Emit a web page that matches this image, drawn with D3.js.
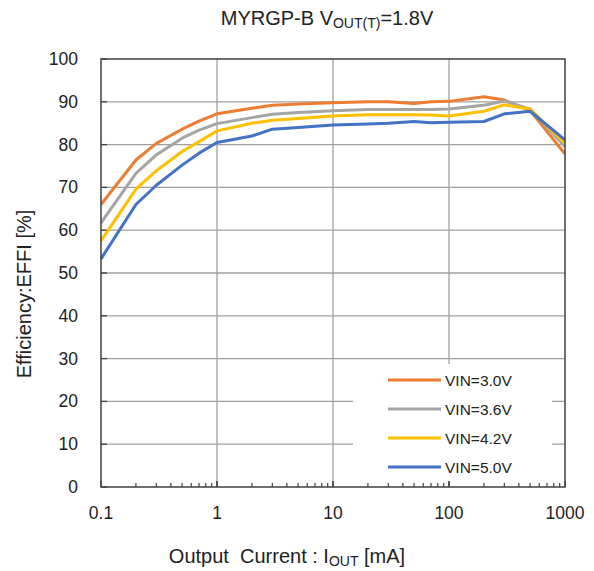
<!DOCTYPE html>
<html>
<head>
<meta charset="utf-8">
<script src="https://cdn.jsdelivr.net/npm/d3@7"></script>
<style>
body { margin: 0; background: #fff; }
text { font-family: "Liberation Sans", Arial, sans-serif; fill: #222; }
</style>
</head>
<body>
<script>
// output current (mA)
var currents = [0.1, 0.2, 0.3, 0.5, 0.7, 1, 2, 3, 5, 10, 20, 30, 50, 70, 100, 200, 300, 500, 1000];
var vin30 = [66.0, 76.4, 80.3, 83.6, 85.5, 87.2, 88.5, 89.2, 89.5, 89.8, 90.0, 90.0, 89.6, 90.0, 90.1, 91.2, 90.4, 88.0, 77.8];
var vin36 = [61.7, 73.3, 77.6, 81.5, 83.4, 84.9, 86.3, 87.1, 87.5, 87.9, 88.2, 88.2, 88.2, 88.2, 88.3, 89.2, 90.2, 88.3, 79.5];
var vin42 = [57.5, 69.6, 73.9, 78.4, 80.7, 83.2, 85.0, 85.7, 86.1, 86.7, 87.0, 87.0, 87.0, 86.9, 86.7, 87.8, 89.3, 88.3, 80.3];
var vin50 = [53.3, 66.0, 70.5, 75.2, 78.0, 80.5, 82.0, 83.6, 84.0, 84.6, 84.8, 85.0, 85.4, 85.1, 85.2, 85.4, 87.2, 87.8, 81.1];
var seriesNames = ["VIN=3.0V", "VIN=3.6V", "VIN=4.2V", "VIN=5.0V"];
var colors = ["#ED7D31", "#A5A5A5", "#FFC000", "#4472C4"];
var yTicks = [0, 10, 20, 30, 40, 50, 60, 70, 80, 90, 100];
var xTicks = [0.1, 1, 10, 100, 1000];

var width = 594, height = 571;
var pL = 101, pR = 565, pT = 59, pB = 487;

var svg = d3.select("body").append("svg")
    .attr("width", width)
    .attr("height", height);

var x = d3.scaleLog().domain([0.1, 1000]).range([pL, pR]);
var y = d3.scaleLinear().domain([0, 100]).range([pB, pT]);

// gridlines
svg.append("g").selectAll("line")
    .data(yTicks.slice(1, -1))
    .enter().append("line")
    .attr("x1", pL).attr("x2", pR)
    .attr("y1", function (d) { return y(d); })
    .attr("y2", function (d) { return y(d); })
    .attr("stroke", "#a0a0a0").attr("stroke-width", 1.3);

svg.append("g").selectAll("line")
    .data(xTicks.slice(1, -1))
    .enter().append("line")
    .attr("x1", function (d) { return x(d); })
    .attr("x2", function (d) { return x(d); })
    .attr("y1", pT).attr("y2", pB)
    .attr("stroke", "#a0a0a0").attr("stroke-width", 1.3);

// legend box sits over the grid
var lg = svg.append("g");
lg.append("rect")
    .attr("x", 353).attr("y", 364)
    .attr("width", 199).attr("height", 118)
    .attr("fill", "#fff");

// minor ticks on bottom (inside)
var minors = [];
for (var dec = 0.1; dec < 1000; dec *= 10) {
    for (var k = 1; k <= 10; k++) minors.push(+(dec * k).toPrecision(3));
}
svg.append("g").selectAll("line")
    .data(minors)
    .enter().append("line")
    .attr("x1", function (d) { return x(d); })
    .attr("x2", function (d) { return x(d); })
    .attr("y1", pB)
    .attr("y2", function (d) { return xTicks.indexOf(d) >= 0 ? pB - 6 : pB - 4; })
    .attr("stroke", "#404040").attr("stroke-width", 1.2);

// major ticks on left (inside)
svg.append("g").selectAll("line")
    .data(yTicks)
    .enter().append("line")
    .attr("x1", pL).attr("x2", pL + 6)
    .attr("y1", function (d) { return y(d); })
    .attr("y2", function (d) { return y(d); })
    .attr("stroke", "#404040").attr("stroke-width", 1.3);

// series lines
var all = [vin30, vin36, vin42, vin50];
var line = d3.line()
    .x(function (d, i) { return x(currents[i]); })
    .y(function (d) { return y(d); });

svg.append("g").selectAll("path")
    .data(all)
    .enter().append("path")
    .attr("d", function (d) { return line(d); })
    .attr("fill", "none")
    .attr("stroke", function (d, i) { return colors[i]; })
    .attr("stroke-width", 3)
    .attr("stroke-linejoin", "round");

// frame
svg.append("rect")
    .attr("x", pL).attr("y", pT)
    .attr("width", pR - pL).attr("height", pB - pT)
    .attr("fill", "none")
    .attr("stroke", "#404040").attr("stroke-width", 1.5);

// legend entries
seriesNames.forEach(function (name, i) {
    var ly = 380 + i * 29;
    lg.append("line")
        .attr("x1", 388).attr("x2", 441)
        .attr("y1", ly).attr("y2", ly)
        .attr("stroke", colors[i]).attr("stroke-width", 3);
    lg.append("text")
        .attr("x", 445).attr("y", ly + 5.5)
        .attr("font-size", 15.5)
        .text(name);
});

// tick labels
svg.append("g").selectAll("text")
    .data(yTicks)
    .enter().append("text")
    .attr("x", 78)
    .attr("y", function (d) { return y(d) + 6; })
    .attr("text-anchor", "end")
    .attr("font-size", 17.5)
    .text(function (d) { return d; });

svg.append("g").selectAll("text")
    .data(xTicks)
    .enter().append("text")
    .attr("x", function (d) { return x(d); })
    .attr("y", 519)
    .attr("text-anchor", "middle")
    .attr("font-size", 17.5)
    .text(function (d) { return d; });

// title
var title = svg.append("text")
    .attr("x", 327).attr("y", 25)
    .attr("text-anchor", "middle")
    .attr("font-size", 20);
title.append("tspan").text("MYRGP-B V");
title.append("tspan").attr("font-size", 14).attr("dy", 3).text("OUT(T)");
title.append("tspan").attr("dy", -3).text("=1.8V");

// axis titles
svg.append("text")
    .attr("transform", "translate(31,294) rotate(-90)")
    .attr("text-anchor", "middle")
    .attr("font-size", 20)
    .text("Efficiency:EFFI [%]");

var xt = svg.append("text")
    .attr("x", 287).attr("y", 563)
    .attr("text-anchor", "middle")
    .attr("font-size", 20);
xt.append("tspan").text("Output\u00a0 Current : I");
xt.append("tspan").attr("font-size", 14).attr("dy", 3).text("OUT");
xt.append("tspan").attr("dy", -3).text(" [mA]");
</script>
</body>
</html>
